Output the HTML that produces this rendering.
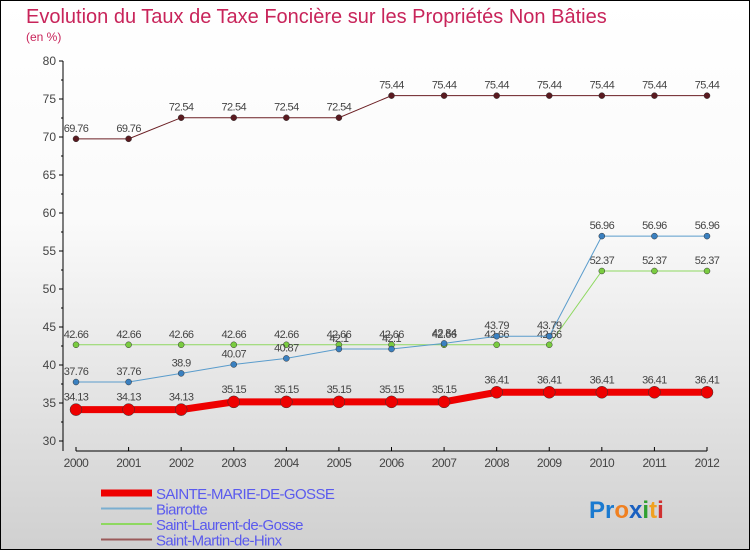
<!DOCTYPE html>
<html><head><meta charset="utf-8"><style>
body{margin:0}
#c{width:748px;height:548px;border:1px solid #000;background:linear-gradient(#fff,#fafafa 40%,#d0d0d0);position:relative;font-family:"Liberation Sans",sans-serif;overflow:hidden}
</style></head><body>
<div id="c">
<svg id="s" width="748" height="548" style="position:absolute;left:0;top:0" font-family="Liberation Sans, sans-serif">
<text x="25" y="22" font-size="20" fill="#c8245a">Evolution du Taux de Taxe Foncière sur les Propriétés Non Bâties</text>
<text x="25" y="40" font-size="12" fill="#c8245a">(en %)</text>
<g id="axes"></g><g id="series"></g><g id="legend"></g>
<text x="588" y="517" font-size="24" font-weight="bold"><tspan fill="#1a7ad0">Pr</tspan><tspan fill="#f08020">o</tspan><tspan fill="#1a60c0">x</tspan><tspan fill="#30a030">i</tspan><tspan fill="#f0a020">t</tspan><tspan fill="#d03030">i</tspan></text>
</svg></div>
<script>
const years=["2000","2001","2002","2003","2004","2005","2006","2007","2008","2009","2010","2011","2012"];
const yTicks=[30,35,40,45,50,55,60,65,70,75,80];
const smg=[34.13,34.13,34.13,35.15,35.15,35.15,35.15,35.15,36.41,36.41,36.41,36.41,36.41];
const biarrotte=[37.76,37.76,38.9,40.07,40.87,42.1,42.1,42.84,43.79,43.79,56.96,56.96,56.96];
const slg=[42.66,42.66,42.66,42.66,42.66,42.66,42.66,42.66,42.66,42.66,52.37,52.37,52.37];
const smh=[69.76,69.76,72.54,72.54,72.54,72.54,75.44,75.44,75.44,75.44,75.44,75.44,75.44];
const names=["SAINTE-MARIE-DE-GOSSE","Biarrotte","Saint-Laurent-de-Gosse","Saint-Martin-de-Hinx"];
const NS="http://www.w3.org/2000/svg";
const X=i=>75+i*(706-75)/12, Y=v=>60+(80-v)*(380/50);
function mk(p,t,a){const e=document.createElementNS(NS,t);for(const k in a)e.setAttribute(k,a[k]);p.appendChild(e);return e;}
const ax=document.getElementById('axes');
mk(ax,'line',{x1:62,y1:60,x2:62,y2:450,stroke:'#000'});
mk(ax,'line',{x1:75,y1:450,x2:706,y2:450,stroke:'#000'});
yTicks.forEach(v=>{mk(ax,'line',{x1:58,y1:Y(v),x2:62,y2:Y(v),stroke:'#000'});
const t=mk(ax,'text',{x:55,y:Y(v)+4,'font-size':12,fill:'#444','text-anchor':'end'});t.textContent=v;


if(v<80){mk(ax,'line',{x1:60,y1:Y(v+2.5),x2:62,y2:Y(v+2.5),stroke:'#000'});}});
years.forEach((y,i)=>{mk(ax,'line',{x1:X(i),y1:446,x2:X(i),y2:450,stroke:'#000'});
const t=mk(ax,'text',{x:X(i),y:466,'font-size':12,fill:'#444','text-anchor':'middle','letter-spacing':'-0.5'});t.textContent=y;

});
const sg=document.getElementById('series');
const defs=[[smh,'#6b1f24','#5a1a20',1,3,'saint-martin-de-hinx'],[slg,'#8ed860','#7acc40',1,3,'saint-laurent-de-gosse'],[biarrotte,'#5a9ccc','#3a80c0',1,3,'biarrotte'],[smg,'#ee0000','#ee0000',7,6,'sainte-marie-de-gosse']];
defs.forEach(([d,lc,pc,w,r,n])=>{
const g=mk(sg,'g',{});


mk(g,'polyline',{points:d.map((v,i)=>X(i)+','+Y(v)).join(' '),fill:'none',stroke:lc,'stroke-width':w});
d.forEach((v,i)=>{const c=mk(g,'circle',{cx:X(i),cy:Y(v),r:r,fill:pc,stroke:'#333','stroke-width':0.5});


const t=mk(g,'text',{x:X(i),y:Y(v)-(w>2?9:7),'font-size':11,fill:'#444','text-anchor':'middle','letter-spacing':'-0.6'});t.textContent=v;

});});
const lg=document.getElementById('legend');
const lcol=['#ee0000','#7aaed0','#8ed860','#9a5a5a'],lw=[7,2,2,2];
names.forEach((n,i)=>{const y=492+i*15.5;
const g=mk(lg,'g',{});


mk(g,'line',{x1:100,y1:y,x2:151,y2:y,stroke:lcol[i],'stroke-width':lw[i]});
const t=mk(g,'text',{x:155,y:y+6,'font-size':15,fill:'#5a5aee','letter-spacing':'-0.6'});t.textContent=n;});
</script></body></html>
